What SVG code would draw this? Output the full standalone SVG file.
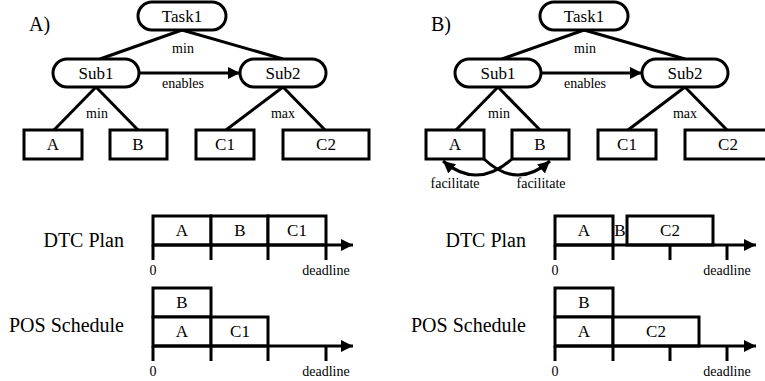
<svg xmlns="http://www.w3.org/2000/svg" width="765" height="381" viewBox="0 0 765 381">
<style>
  text { font-family: "Liberation Serif", Tinos, "DejaVu Serif", "Noto Serif", "Times New Roman", Times, serif; fill: #000; }
  .nl { font-size: 17px; text-anchor: middle; }
  .el { font-size: 14px; text-anchor: middle; }
  .pl { font-size: 20px; }
  .tl { font-size: 20px; text-anchor: end; }
  .bl { font-size: 17px; text-anchor: middle; }
  .ax { font-size: 14px; text-anchor: middle; }
  .sh { fill: #fff; stroke: #000; stroke-width: 3; }
  .ln { fill: none; stroke: #000; stroke-width: 3; }
</style>
<defs>
  <marker id="arr" viewBox="0 0 10 10" refX="10" refY="5" markerWidth="4" markerHeight="4" markerUnits="strokeWidth" orient="auto">
    <path d="M0,0 L10,5 L0,10 Z" fill="#000"/>
  </marker>
</defs>
<rect width="765" height="381" fill="#fff"/>

<!-- Panel A -->
<g id="panelA">
  <text class="pl" x="29" y="31">A)</text>
  <g id="a-connectors">
    <line class="ln" x1="182" y1="30" x2="100" y2="59"/>
    <line class="ln" x1="182" y1="30" x2="283" y2="59"/>
    <line class="ln" x1="140" y1="73" x2="240" y2="73" marker-end="url(#arr)"/>
    <line class="ln" x1="96" y1="87" x2="54" y2="130"/>
    <line class="ln" x1="96" y1="87" x2="138" y2="130"/>
    <line class="ln" x1="283" y1="87" x2="226" y2="130"/>
    <line class="ln" x1="283" y1="87" x2="325" y2="130"/>
    <text class="el" x="183" y="53">min</text>
    <text class="el" x="183" y="88">enables</text>
    <text class="el" x="97" y="118">min</text>
    <text class="el" x="283" y="118">max</text>
  </g>
  <g id="a-task1"><rect class="sh" x="138" y="2" width="88" height="28" rx="14"/><text class="nl" x="182" y="22">Task1</text></g>
  <g id="a-sub1"><rect class="sh" x="53" y="59" width="86" height="28" rx="14"/><text class="nl" x="96" y="79">Sub1</text></g>
  <g id="a-sub2"><rect class="sh" x="240" y="59" width="86" height="28" rx="14"/><text class="nl" x="283" y="79">Sub2</text></g>
  <g id="a-A"><rect class="sh" x="24" y="130" width="58" height="29"/><text class="nl" x="53" y="150">A</text></g>
  <g id="a-B"><rect class="sh" x="110" y="130" width="57" height="29"/><text class="nl" x="138" y="150">B</text></g>
  <g id="a-C1"><rect class="sh" x="196" y="130" width="58" height="29"/><text class="nl" x="225" y="150">C1</text></g>
  <g id="a-C2"><rect class="sh" x="283" y="130" width="86" height="29"/><text class="nl" x="326" y="150">C2</text></g>

  <g id="a-dtc">
    <text class="tl" x="124" y="247">DTC Plan</text>
    <rect class="sh" x="153" y="216" width="58" height="29"/>
    <rect class="sh" x="211" y="216" width="57" height="29"/>
    <rect class="sh" x="268" y="216" width="58" height="29"/>
    <text class="bl" x="182" y="236">A</text>
    <text class="bl" x="240" y="236">B</text>
    <text class="bl" x="297" y="236">C1</text>
    <line class="ln" x1="153" y1="245" x2="353" y2="245" marker-end="url(#arr)"/>
    <path class="ln" d="M153,245V260M211,245V260M268,245V260M326,245V260"/>
    <text class="ax" x="153" y="275">0</text>
    <text class="ax" x="326" y="275">deadline</text>
  </g>
  <g id="a-pos">
    <text class="tl" x="124" y="332">POS Schedule</text>
    <rect class="sh" x="153" y="288" width="58" height="29"/>
    <rect class="sh" x="153" y="317" width="58" height="29"/>
    <rect class="sh" x="211" y="317" width="57" height="29"/>
    <text class="bl" x="182" y="308">B</text>
    <text class="bl" x="182" y="337">A</text>
    <text class="bl" x="240" y="337">C1</text>
    <line class="ln" x1="153" y1="346" x2="353" y2="346" marker-end="url(#arr)"/>
    <path class="ln" d="M153,346V361M211,346V361M268,346V361M326,346V361"/>
    <text class="ax" x="153" y="376">0</text>
    <text class="ax" x="326" y="376">deadline</text>
  </g>
</g>

<!-- Panel B -->
<g id="panelB">
  <text class="pl" x="431" y="31">B)</text>
  <g id="b-connectors">
    <line class="ln" x1="584" y1="30" x2="502" y2="59"/>
    <line class="ln" x1="584" y1="30" x2="685" y2="59"/>
    <line class="ln" x1="542" y1="73" x2="642" y2="73" marker-end="url(#arr)"/>
    <line class="ln" x1="498" y1="87" x2="456" y2="130"/>
    <line class="ln" x1="498" y1="87" x2="540" y2="130"/>
    <line class="ln" x1="685" y1="87" x2="628" y2="130"/>
    <line class="ln" x1="685" y1="87" x2="727" y2="130"/>
    <path class="ln" d="M484,159 Q517,190 550,161" marker-end="url(#arr)"/>
    <path class="ln" d="M512,159 Q477,190 443,161" marker-end="url(#arr)"/>
    <text class="el" x="585" y="53">min</text>
    <text class="el" x="585" y="88">enables</text>
    <text class="el" x="499" y="118">min</text>
    <text class="el" x="685" y="118">max</text>
    <text class="el" x="455" y="188">facilitate</text>
    <text class="el" x="541" y="188">facilitate</text>
  </g>
  <g id="b-task1"><rect class="sh" x="540" y="2" width="88" height="28" rx="14"/><text class="nl" x="584" y="22">Task1</text></g>
  <g id="b-sub1"><rect class="sh" x="455" y="59" width="86" height="28" rx="14"/><text class="nl" x="498" y="79">Sub1</text></g>
  <g id="b-sub2"><rect class="sh" x="642" y="59" width="86" height="28" rx="14"/><text class="nl" x="685" y="79">Sub2</text></g>
  <g id="b-A"><rect class="sh" x="426" y="130" width="58" height="29"/><text class="nl" x="455" y="150">A</text></g>
  <g id="b-B"><rect class="sh" x="512" y="130" width="57" height="29"/><text class="nl" x="540" y="150">B</text></g>
  <g id="b-C1"><rect class="sh" x="598" y="130" width="58" height="29"/><text class="nl" x="627" y="150">C1</text></g>
  <g id="b-C2"><rect class="sh" x="685" y="130" width="86" height="29"/><text class="nl" x="728" y="150">C2</text></g>

  <g id="b-dtc">
    <text class="tl" x="526" y="247">DTC Plan</text>
    <rect class="sh" x="555" y="216" width="58" height="29"/>
    <rect class="sh" x="627" y="216" width="86" height="29"/>
    <text class="bl" x="584" y="236">A</text>
    <text class="bl" x="620" y="236">B</text>
    <text class="bl" x="670" y="236">C2</text>
    <line class="ln" x1="555" y1="245" x2="756" y2="245" marker-end="url(#arr)"/>
    <path class="ln" d="M555,245V260M613,245V260M670,245V260M727,245V260"/>
    <text class="ax" x="555" y="275">0</text>
    <text class="ax" x="727" y="275">deadline</text>
  </g>
  <g id="b-pos">
    <text class="tl" x="526" y="332">POS Schedule</text>
    <rect class="sh" x="555" y="288" width="58" height="29"/>
    <rect class="sh" x="555" y="317" width="58" height="29"/>
    <rect class="sh" x="613" y="317" width="86" height="29"/>
    <text class="bl" x="584" y="308">B</text>
    <text class="bl" x="584" y="337">A</text>
    <text class="bl" x="656" y="337">C2</text>
    <line class="ln" x1="555" y1="346" x2="756" y2="346" marker-end="url(#arr)"/>
    <path class="ln" d="M555,346V361M613,346V361M670,346V361M727,346V361"/>
    <text class="ax" x="555" y="376">0</text>
    <text class="ax" x="727" y="376">deadline</text>
  </g>
</g>
</svg>
